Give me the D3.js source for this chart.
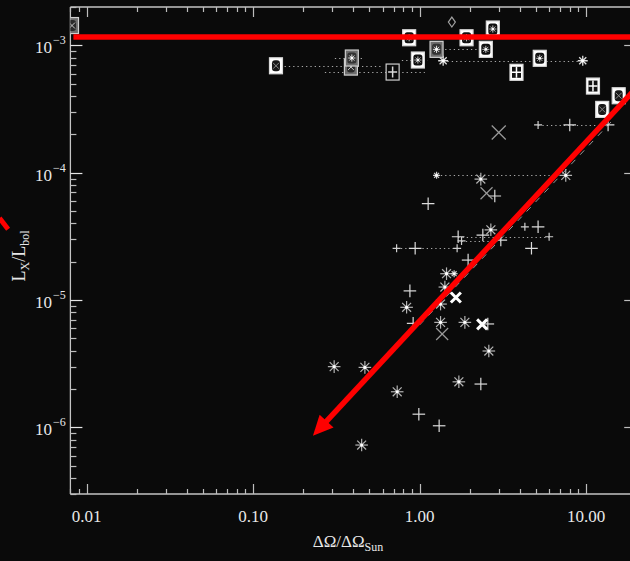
<!DOCTYPE html>
<html><head><meta charset="utf-8">
<script src="https://cdn.jsdelivr.net/npm/d3@7"></script>
<style>html,body{margin:0;background:#0a0a0a;overflow:hidden}svg{display:block}</style>
</head><body>
<script>
// ---- data ----
const xDomain = [0.008, 20];
const yDomain = [3e-7, 2e-3];
const xTickValues = [0.01, 0.1, 1, 10];
const xTickLabels = ["0.01", "0.10", "1.00", "10.00"];
const yTickValues = [1e-3, 1e-4, 1e-5, 1e-6];
const yTickExps = ["\u22123", "\u22124", "\u22125", "\u22126"];

const boxStar = [[0.866,1.147e-3],[0.977,7.67e-4],[1.915,1.147e-3],[2.754,1.343e-3],[2.50,9.3e-4],[5.27,7.91e-4]];
const boxStarGray = [[0.392,7.95e-4],[1.265,9.3e-4]];
const boxXWhite = [[15.7,4.02e-4],[12.5,3.14e-4],[0.1373,6.91e-4]];
const boxXGray = [[0.00818,1.43e-3],[0.387,6.75e-4]];
const boxWin = [[3.82,6.14e-4],[11.0,4.79e-4]];
const boxWinGray = [[0.689,6.17e-4]];
const diamonds = [[1.563,1.524e-3]];
const asterisks = [[2.333,8.91e-5],[7.55,9.53e-5],[2.68,3.56e-5],[1.452,1.61e-5],[1.419,1.265e-5],[0.836,8.77e-6],[1.337,9.30e-6],[1.337,6.68e-6],[1.871,6.68e-6],[2.606,3.98e-6],[0.307,3.0e-6],[0.4695,2.96e-6],[1.722,2.28e-6],[0.734,1.905e-6],[0.449,7.27e-7]];
const midAsterisks = [[1.386,7.57e-4],[9.55,7.57e-4]];
const smallAsterisks = [[1.265,9.53e-5],[1.613,1.61e-5]];
const pluses = [[1.126,5.71e-5],[2.83,6.56e-5],[1.705,3.14e-5],[2.399,3.24e-5],[3.076,2.96e-5],[5.15,3.76e-5],[4.70,2.55e-5],[0.941,2.55e-5],[1.957,2.06e-5],[0.875,1.18e-5],[0.915,6.56e-6],[2.57,6.49e-6],[2.333,2.19e-6],[0.990,1.27e-6],[1.311,1.03e-6],[7.98,2.37e-4],[13.56,2.37e-4]];
const smallPluses = [[5.15,2.37e-4],[6.0,3.14e-5],[0.728,2.55e-5],[1.681,2.55e-5],[4.29,3.76e-5],[1.787,2.91e-5]];
const thinX = [[2.99,2.07e-4],[2.525,6.89e-5],[1.367,5.41e-6]];
const boldX = [[1.652,1.047e-5],[2.375,6.44e-6]];
// ranges: [xLow, xHigh, y]
const ranges = [[0.1373,0.602,6.91e-4],[0.270,1.076,6.17e-4],[0.310,0.457,7.95e-4],[0.783,1.121,7.67e-4],[1.265,2.50,9.3e-4],[1.386,9.55,7.57e-4],[5.15,13.56,2.37e-4],[1.265,7.55,9.53e-5],[1.705,6.0,3.14e-5],[1.787,3.076,2.91e-5],[0.728,1.681,2.55e-5]];
const fitLine = [[1.0,6.37e-6],[15,2.72e-4]];
const redHLine = [[0.00834,1.162e-3],[20,1.162e-3]];
const redArrow = [[20,4.62e-4],[0.229,8.6e-7]];
const redStub = [[0.0030,4.4e-5],[0.00338,3.6e-5]];

// ---- layout ----
const W = 630, H = 561;
const L = 70.4, R = 636.2, T = 7, B = 494;
const x = d3.scaleLog().domain(xDomain).range([L, R]);
const y = d3.scaleLog().domain(yDomain).range([B, T]);

const svg = d3.select("body").append("svg").attr("width", W).attr("height", H);
svg.append("rect").attr("width", W).attr("height", H).attr("fill", "#0a0a0a");
svg.append("clipPath").attr("id", "clip").append("rect").attr("x", L).attr("y", T).attr("width", R - L).attr("height", B - T);

const axisCol = "#c4c4c4";
const isMajor = v => Math.abs(Math.log10(v) - Math.round(Math.log10(v))) < 1e-6;

// frame
const fr = svg.append("g").attr("stroke", axisCol).attr("stroke-width", 1.3).attr("fill", "none");
fr.append("line").attr("x1", L).attr("x2", R).attr("y1", B).attr("y2", B);
fr.append("line").attr("x1", L).attr("x2", R).attr("y1", T).attr("y2", T);
fr.append("line").attr("x1", L).attr("x2", L).attr("y1", T).attr("y2", B);
fr.append("line").attr("x1", R).attr("x2", R).attr("y1", T).attr("y2", B);

// ticks
const tk = svg.append("g").attr("stroke", "#bdbdbd").attr("stroke-width", 1.2);
x.ticks().forEach(v => {
  const px = Math.round(x(v)) + 0.5, len = isMajor(v) ? 10 : 5;
  tk.append("line").attr("x1", px).attr("x2", px).attr("y1", B).attr("y2", B - len);
  tk.append("line").attr("x1", px).attr("x2", px).attr("y1", T).attr("y2", T + len);
});
y.ticks().forEach(v => {
  const py = Math.round(y(v)) + 0.5, len = isMajor(v) ? 12 : 6;
  tk.append("line").attr("y1", py).attr("y2", py).attr("x1", L).attr("x2", L + len).attr("stroke", isMajor(v) ? "#e6e6e6" : "#bdbdbd");
  tk.append("line").attr("y1", py).attr("y2", py).attr("x1", R).attr("x2", R - len);
});

const font = "'Liberation Serif', 'DejaVu Serif', serif";
// x tick labels
svg.append("g").selectAll("text").data(xTickValues).join("text")
  .attr("x", d => x(d)).attr("y", 522).attr("text-anchor", "middle")
  .attr("font-family", font).attr("font-size", 17).attr("fill", "#e8e8e8")
  .text((d, i) => xTickLabels[i]);
// y tick labels
const yl = svg.append("g").attr("font-family", font).attr("fill", "#e8e8e8");
yTickValues.forEach((v, i) => {
  yl.append("text").attr("x", 52).attr("y", y(v) + 8).attr("text-anchor", "end").attr("font-size", 17).text("10");
  yl.append("text").attr("x", 53).attr("y", y(v) - 1).attr("font-size", 12).text(yTickExps[i]);
});
// axis titles
const xt = svg.append("text").attr("x", 348).attr("y", 547).attr("text-anchor", "middle")
  .attr("font-family", font).attr("font-size", 17).attr("fill", "#e8e8e8");
xt.append("tspan").text("\u0394\u03A9/\u0394\u03A9");
xt.append("tspan").attr("font-size", 12).attr("dy", 4).text("Sun");
const yt = svg.append("text").attr("transform", "translate(25,256) rotate(-90)").attr("text-anchor", "middle")
  .attr("font-family", font).attr("font-size", 18).attr("fill", "#e8e8e8");
yt.append("tspan").text("L");
yt.append("tspan").attr("font-size", 12).attr("dy", 4).text("X");
yt.append("tspan").attr("dy", -4).text("/L");
yt.append("tspan").attr("font-size", 12).attr("dy", 4).text("bol");

// plot layer
const pl = svg.append("g").attr("clip-path", "url(#clip)");

// ranges (dotted)
pl.append("g").selectAll("line").data(ranges).join("line")
  .attr("x1", d => x(d[0])).attr("x2", d => x(d[1])).attr("y1", d => Math.round(y(d[2])) + 0.5).attr("y2", d => Math.round(y(d[2])) + 0.5)
  .attr("stroke", "#a8a8a8").attr("stroke-width", 1).attr("stroke-dasharray", "1.3,3");

// fit dashed line
pl.append("line").attr("x1", x(fitLine[0][0])).attr("y1", y(fitLine[0][1])).attr("x2", x(fitLine[1][0])).attr("y2", y(fitLine[1][1]))
  .attr("stroke", "#9a9a9a").attr("stroke-width", 1).attr("stroke-dasharray", "6,7");

function place(arr) {
  return pl.append("g").selectAll("g").data(arr).join("g").attr("transform", d => `translate(${x(d[0])},${y(d[1])})`);
}
function star(g, r, col, w) {
  [0, 45, 90, 135].forEach(a => {
    const c = Math.cos(a * Math.PI / 180) * r, s = Math.sin(a * Math.PI / 180) * r;
    g.append("line").attr("x1", -c).attr("y1", -s).attr("x2", c).attr("y2", s).attr("stroke", col).attr("stroke-width", w);
  });
}
function plus(g, r, col, w) {
  g.append("line").attr("x1", -r).attr("x2", r).attr("y1", 0).attr("y2", 0).attr("stroke", col).attr("stroke-width", w);
  g.append("line").attr("y1", -r).attr("y2", r).attr("x1", 0).attr("x2", 0).attr("stroke", col).attr("stroke-width", w);
}
function cross(g, r, col, w) {
  g.append("line").attr("x1", -r).attr("x2", r).attr("y1", -r).attr("y2", r).attr("stroke", col).attr("stroke-width", w);
  g.append("line").attr("x1", -r).attr("x2", r).attr("y1", r).attr("y2", -r).attr("stroke", col).attr("stroke-width", w);
}

// asterisks
let g;
g = place(asterisks); star(g, 6.3, "#b4b4b4", 1.2); g.append("circle").attr("r", 1.6).attr("fill", "#fff");
g = place(midAsterisks); star(g, 5, "#e0e0e0", 1.3); g.append("circle").attr("r", 1.6).attr("fill", "#fff");
g = place(smallAsterisks); star(g, 3.5, "#d0d0d0", 1.2); g.append("circle").attr("r", 1.3).attr("fill", "#fff");
// pluses
g = place(pluses); plus(g, 6.3, "#dcdcdc", 1.2);
g = place(smallPluses); plus(g, 4, "#d0d0d0", 1.2);
// X marks
g = place(thinX); g.each(function (d, i) { cross(d3.select(this), i === 0 ? 7 : 6, "#9a9a9a", 1.2); });
g = place(boldX); cross(g, 5, "#ffffff", 3);
// diamond
g = place(diamonds); g.append("path").attr("d", "M0,-5L3.5,0L0,5L-3.5,0Z").attr("fill", "none").attr("stroke", "#a0a0a0").attr("stroke-width", 1.2);

// boxes
function box(arr, kind, gray) {
  const gg = place(arr);
  gg.append("rect").attr("x", -6.5).attr("y", -8).attr("width", 13).attr("height", 16)
    .attr("fill", gray ? (kind === "win" ? "#0a0a0a" : "#6e6e6e") : "#ffffff")
    .attr("stroke", gray ? "#cfcfcf" : "#d8d8d8").attr("stroke-width", 1.2);
  const ink = gray ? "#d8d8d8" : "#111";
  if (kind === "star") {
    gg.append("rect").attr("x", -4.5).attr("y", -5.5).attr("width", 9).attr("height", 11).attr("rx", 2.5).attr("fill", gray ? "#333" : "#111");
    star(gg, 3.6, gray ? "#ddd" : "#bdbdbd", 1);
    gg.append("circle").attr("r", 1.3).attr("fill", "#fff");
  } else if (kind === "x") {
    gg.append("rect").attr("x", -4).attr("y", -5.5).attr("width", 8).attr("height", 11).attr("rx", 3).attr("fill", gray ? "#2a2a2a" : "#1a1a1a");
    cross(gg, 3, gray ? "#c8c8c8" : "#8a8a8a", 1);
  } else {
    if (!gray) gg.append("rect").attr("x", -4.5).attr("y", -5.5).attr("width", 9).attr("height", 11).attr("fill", "#111");
    gg.append("line").attr("x1", -4.5).attr("x2", 4.5).attr("y1", 0).attr("y2", 0).attr("stroke", gray ? ink : "#fff").attr("stroke-width", 1.5);
    gg.append("line").attr("y1", -5.5).attr("y2", 5.5).attr("x1", 0).attr("x2", 0).attr("stroke", gray ? ink : "#fff").attr("stroke-width", 1.5);
  }
}
box(boxXGray, "x", true);
box(boxStarGray, "star", true);
box(boxWinGray, "win", true);
box(boxXWhite, "x", false);
box(boxStar, "star", false);
box(boxWin, "win", false);

// red annotations
const red = "#ff0000";
svg.append("line").attr("x1", x(redHLine[0][0])).attr("y1", y(redHLine[0][1])).attr("x2", x(redHLine[1][0])).attr("y2", y(redHLine[1][1]))
  .attr("stroke", red).attr("stroke-width", 5.5);
svg.append("line").attr("x1", x(redStub[0][0])).attr("y1", y(redStub[0][1])).attr("x2", x(redStub[1][0])).attr("y2", y(redStub[1][1]))
  .attr("stroke", red).attr("stroke-width", 5);
{
  const x0 = x(redArrow[0][0]), y0 = y(redArrow[0][1]), x1 = x(redArrow[1][0]), y1 = y(redArrow[1][1]);
  const dx = x1 - x0, dy = y1 - y0, len = Math.hypot(dx, dy), ux = dx / len, uy = dy / len;
  const hl = 20, hw = 9.5;
  const bx = x1 - ux * hl, by = y1 - uy * hl;
  svg.append("line").attr("x1", x0).attr("y1", y0).attr("x2", bx + ux * 2).attr("y2", by + uy * 2).attr("stroke", red).attr("stroke-width", 5.5);
  svg.append("path").attr("d", `M${x1},${y1}L${bx - uy * hw},${by + ux * hw}L${bx + uy * hw},${by - ux * hw}Z`).attr("fill", red);
}
</script>
</body></html>
